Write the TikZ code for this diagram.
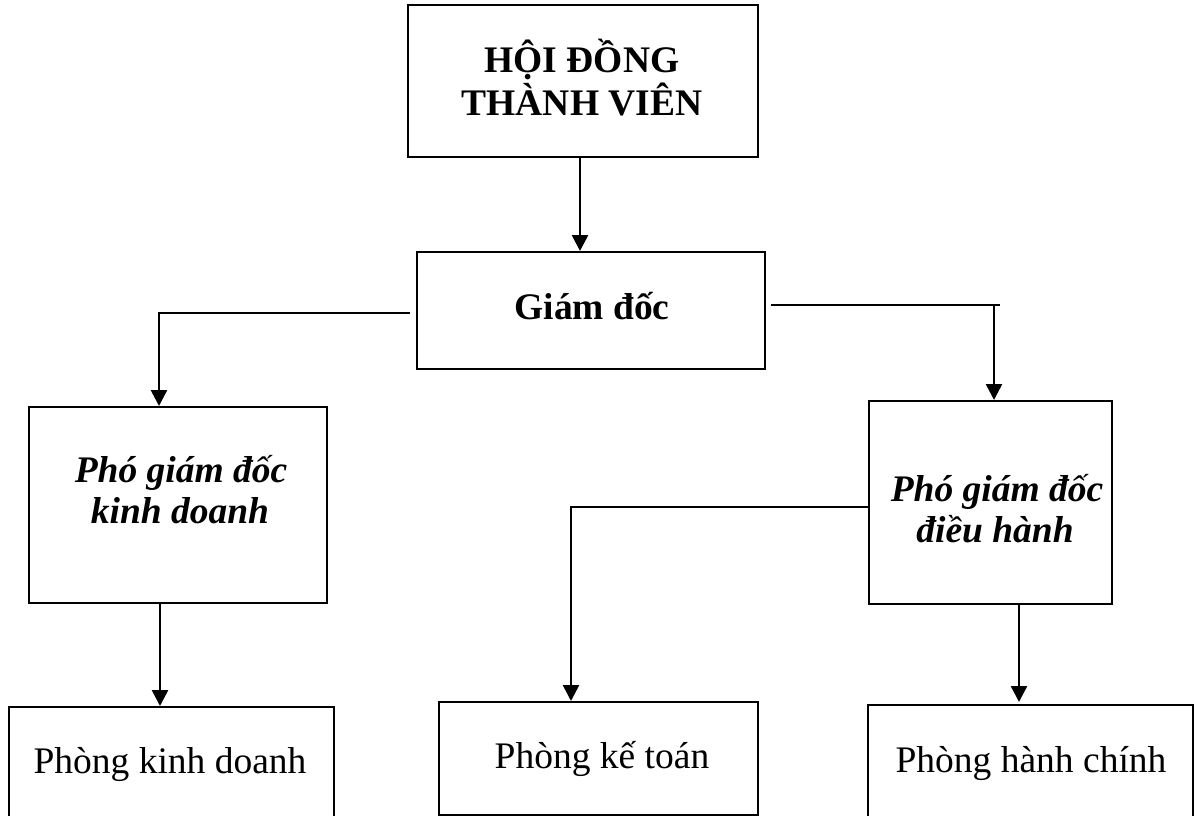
\documentclass[tikz,border=0pt]{standalone}
\usepackage{fontspec}
\setmainfont{Liberation Serif}
\usetikzlibrary{arrows.meta}
\begin{document}
\begin{tikzpicture}[x=1pt,y=-1pt,
  box/.style={draw,line width=2pt,inner sep=0pt,minimum width=#1},
  lbl/.style={anchor=base,inner sep=0pt,font=\fontsize{37.5}{42}\selectfont},
  head/.style={lbl,font=\fontsize{37.5}{42}\selectfont\bfseries},
  sub/.style={lbl,font=\fontsize{37.5}{42}\selectfont\bfseries\itshape},
  link/.style={line width=2pt},
  arr/.style={line width=2.6pt,-{Triangle[length=16pt,width=16pt]}}]
\clip (0,0) rectangle (1194,816);
\fill[white] (0,0) rectangle (1194,816);

% boxes
\node[box=350pt,minimum height=152pt] (hdtv) at (583,81) {};
\node[box=348pt,minimum height=117pt] (gd)   at (591,310.5) {};
\node[box=298pt,minimum height=196pt] (pkd)  at (178,505) {};
\node[box=243pt,minimum height=203pt] (pdh)  at (990.5,502.5) {};
\node[box=325pt,minimum height=120pt] (pkdoanh) at (171.5,767) {};
\node[box=319pt,minimum height=113pt] (pkt)  at (598.5,758.5) {};
\node[box=325pt,minimum height=120pt] (phc)  at (1030.5,765) {};

% labels
\node[head] (t1a) at (582,73)  {HỘI ĐỒNG};
\node[head] (t1b) at (582,115) {THÀNH VIÊN};
\node[head] (t2)  at (592,319) {Giám đốc};
\node[sub]  (t3a) at (181,482) {Phó giám đốc};
\node[sub]  (t3b) at (180,523) {kinh doanh};
\node[sub]  (t4a) at (997,501) {Phó giám đốc};
\node[sub]  (t4b) at (995,542) {điều hành};
\node[lbl]  (t5)  at (170,773) {Phòng kinh doanh};
\node[lbl]  (t6)  at (602,768) {Phòng kế toán};
\node[lbl]  (t7)  at (1031,772) {Phòng hành chính};

% connectors
\draw[arr] ([xshift=-3pt,yshift=2pt]hdtv.south) -- ([xshift=-3pt]hdtv.south |- gd.north);

\coordinate (gdL) at ([xshift=-6pt]gd.west |- 0,313);
\draw[arr] (gdL) -| ([xshift=-19pt]pkd.north);

\coordinate (gdR)  at ([xshift=5pt]gd.east |- 0,305);
\coordinate (gdRe) at (1000,305);
\coordinate (gdRv) at (994,305);
\draw[link] (gdR) -- (gdRe);
\draw[arr] (gdRv) -- ([xshift=3.5pt]pdh.north);

\draw[arr] ([yshift=-4.5pt]pdh.west) -| ([xshift=-27.5pt]pkt.north);

\draw[arr] ([xshift=-18pt]pkd.south) -- ([xshift=-18pt]pkd.south |- pkdoanh.north);
\draw[arr] ([xshift=28.5pt,yshift=2pt]pdh.south) -- ([xshift=28.5pt,yshift=2pt]pdh.south |- phc.north);
\end{tikzpicture}
\end{document}
